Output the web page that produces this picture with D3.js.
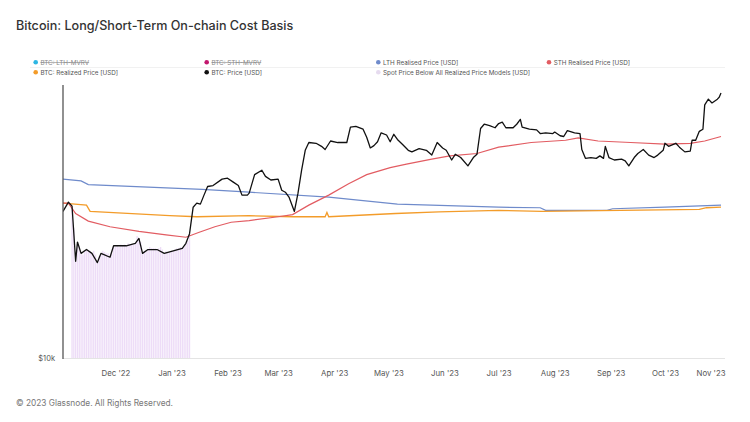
<!DOCTYPE html>
<html><head><meta charset="utf-8">
<script src="https://cdn.jsdelivr.net/npm/d3@7"></script>
<style>
html,body{margin:0;padding:0;background:#fff;overflow:hidden;}
svg{display:block;font-family:Inter,"Noto Sans",sans-serif;}
</style></head><body>
<script>
// ---------- DATA ----------
const priceDates = ["2022-11-02","2022-11-05","2022-11-07","2022-11-09","2022-11-10","2022-11-12","2022-11-15","2022-11-18","2022-11-21","2022-11-23","2022-11-28","2022-11-30","2022-12-07","2022-12-12","2022-12-14","2022-12-16","2022-12-19","2022-12-24","2022-12-28","2023-01-02","2023-01-07","2023-01-09","2023-01-11","2023-01-13","2023-01-15","2023-01-17","2023-01-19","2023-01-21","2023-01-24","2023-01-29","2023-02-01","2023-02-04","2023-02-07","2023-02-09","2023-02-12","2023-02-13","2023-02-16","2023-02-20","2023-02-22","2023-02-25","2023-03-01","2023-03-03","2023-03-05","2023-03-07","2023-03-10","2023-03-12","2023-03-14","2023-03-16","2023-03-18","2023-03-22","2023-03-25","2023-03-27","2023-03-30","2023-04-03","2023-04-08","2023-04-10","2023-04-13","2023-04-17","2023-04-19","2023-04-21","2023-04-23","2023-04-25","2023-04-27","2023-04-30","2023-05-02","2023-05-04","2023-05-06","2023-05-09","2023-05-12","2023-05-14","2023-05-18","2023-05-22","2023-05-25","2023-05-28","2023-05-31","2023-06-02","2023-06-05","2023-06-07","2023-06-10","2023-06-14","2023-06-17","2023-06-19","2023-06-21","2023-06-23","2023-06-26","2023-06-29","2023-07-01","2023-07-03","2023-07-05","2023-07-09","2023-07-11","2023-07-13","2023-07-14","2023-07-18","2023-07-22","2023-07-24","2023-07-27","2023-07-31","2023-08-01","2023-08-04","2023-08-06","2023-08-08","2023-08-12","2023-08-15","2023-08-16","2023-08-18","2023-08-21","2023-08-24","2023-08-26","2023-08-28","2023-08-29","2023-08-31","2023-09-03","2023-09-07","2023-09-09","2023-09-11","2023-09-14","2023-09-16","2023-09-19","2023-09-22","2023-09-25","2023-09-27","2023-09-30","2023-10-01","2023-10-03","2023-10-05","2023-10-07","2023-10-09","2023-10-12","2023-10-15","2023-10-16","2023-10-18","2023-10-20","2023-10-22","2023-10-23","2023-10-25","2023-10-27","2023-10-30","2023-10-31","2023-11-01"];
const priceValues = [20000,20900,20500,15800,17300,16400,16700,16400,15700,16400,16100,17000,17000,17200,17600,16400,16700,16700,16400,16600,16800,17200,18000,20400,20800,20700,21600,22500,22600,23300,23400,23000,22600,21600,21600,21800,23800,24300,23600,23200,23300,22100,21900,21400,20000,21800,24300,26700,27700,27600,27200,26800,27900,27700,27700,29800,29900,29500,28400,27000,27300,27800,29000,28700,27800,28800,28100,27400,26700,26500,26900,26700,26100,27700,27000,26700,25500,26200,25800,24800,25800,26200,29600,30200,30000,29700,30300,30500,29700,29700,30200,30900,29800,29500,29400,28900,29000,28900,29100,28600,28500,29300,29000,28900,26800,25700,25800,25700,26000,25700,27200,25800,25500,25600,25400,24800,25800,26300,26800,26100,25800,26100,26700,27600,27200,27400,27600,27100,26500,26600,28000,28000,29200,29500,33100,34000,33400,34000,34300,35000];

const lthDates = ["2022-11-02","2022-11-12","2022-11-16","2023-01-18","2023-02-13","2023-03-29","2023-05-06","2023-07-01","2023-07-24","2023-07-27","2023-08-30","2023-09-02","2023-10-01","2023-11-01"];
const lthValues = [23300,23100,22700,22200,21900,21400,20700,20400,20350,20100,20100,20250,20400,20600];

const sthDates = ["2022-11-02","2022-11-05","2022-11-09","2022-11-16","2022-11-28","2022-12-14","2022-12-29","2023-01-09","2023-01-16","2023-01-25","2023-02-03","2023-02-13","2023-03-01","2023-03-09","2023-03-18","2023-03-29","2023-04-09","2023-04-19","2023-05-02","2023-05-11","2023-05-25","2023-06-04","2023-06-19","2023-07-01","2023-07-19","2023-08-07","2023-08-14","2023-08-25","2023-09-12","2023-10-01","2023-10-15","2023-10-23","2023-11-01"];
const sthValues = [20800,20800,19800,19100,18600,18200,17900,17700,18100,18600,19000,19150,19500,19700,20600,21600,22800,23800,24600,25000,25600,26000,26300,27100,27700,28000,28300,27900,27700,27500,27600,27900,28500];

const realizedDates = ["2022-11-02","2022-11-15","2022-11-17","2022-12-31","2023-01-15","2023-02-13","2023-03-09","2023-03-27","2023-03-28","2023-03-29","2023-05-05","2023-05-29","2023-07-01","2023-07-25","2023-10-20","2023-10-24","2023-11-01"];
const realizedValues = [20800,20600,20000,19600,19500,19600,19500,19500,19900,19500,19800,19950,20100,20000,20200,20350,20400];

// Spot price below all realized price models (daily, from 2022-11-07)
const belowStart = "2022-11-07";
const belowValues = [20300,18500,15800,17300,17000,16400,16300,16600,16700,16600,16600,16400,16600,16300,15700,16200,16400,16600,16500,16400,16400,16100,16400,17000,
16900,17000,16900,17100,17000,17100,17000,17200,17100,17100,17100,17200,17800,17600,17300,16400,16600,16600,16700,16900,16800,16800,16800,16700,16800,16900,16700,16400,16600,16500,16500,
16600,16600,16700,16800,16800,16900,16900,16900,17200,17400,17900];

const xTickDates = ["2022-12-01","2023-01-01","2023-02-01","2023-03-01","2023-04-01","2023-05-01","2023-06-01","2023-07-01","2023-08-01","2023-09-01","2023-10-01","2023-11-01"];
const yTickValues = [10000];

const legendLabels = ["BTC: LTH-MVRV","BTC: STH-MVRV","LTH Realised Price [USD]","STH Realised Price [USD]","BTC: Realized Price [USD]","BTC: Price [USD]","Spot Price Below All Realized Price Models [USD]"];
const legendColors = ["#2db6e3","#c2186e","#6f8bcb","#e25c62","#f39c2a","#111111","#e6dbef"];
const legendHidden = [true,true,false,false,false,false,false];

// ---------- CHART ----------
(function () {
const W = 750, H = 422;
const parse = d3.utcParse("%Y-%m-%d");
const svg = d3.select("body").append("svg").attr("width", W).attr("height", H);

const pLeft = 63, pRight = 725, pBottom = 358, pTop = 85;
const x = d3.scaleUtc().domain([parse("2022-11-02"), parse("2023-11-01")]).range([63, 721]);
const y = d3.scaleLog().domain([10000, 100000]).range([358, -129]);

// title
svg.append("text").attr("x", 16).attr("y", 30).attr("font-size", 12.6).attr("font-weight", 500)
  .attr("fill", "#333").text("Bitcoin: Long/Short-Term On-chain Cost Basis");

// legend
svg.append("line").attr("x1", 30).attr("x2", pRight).attr("y1", 67.5).attr("y2", 67.5)
  .attr("stroke", "#f1f1f1").attr("stroke-width", 1);
const legPos = [[35.7,62.3],[206.7,62.3],[378.3,62.3],[549,62.3],[35.7,72.3],[206.7,72.3],[378.3,72.3]];
const lg = svg.append("g");
legendLabels.forEach((lab, i) => {
  const [lx, ly] = legPos[i];
  lg.append("circle").attr("cx", lx).attr("cy", ly).attr("r", 2.3).attr("fill", legendColors[i]);
  lg.append("text").attr("x", lx + 4.7).attr("y", ly + 2.3).attr("font-size", 6.3)
    .attr("fill", legendHidden[i] ? "#8a8a8a" : "#555")
    .attr("text-decoration", legendHidden[i] ? "line-through" : null)
    .text(lab);
});

// clip
svg.append("defs").append("clipPath").attr("id", "clip")
  .append("rect").attr("x", pLeft).attr("y", pTop - 10).attr("width", pRight - pLeft).attr("height", pBottom - pTop + 10);

const plot = svg.append("g").attr("clip-path", "url(#clip)");

// bars
const bs = parse(belowStart);
const barData = belowValues.map((v, i) => ({ d: d3.utcDay.offset(bs, i), v }));
const bw = (x(d3.utcDay.offset(bs, 1)) - x(bs)) * 0.72;
plot.selectAll("rect.bar").data(barData).enter().append("rect").attr("class", "bar")
  .attr("x", d => x(d.d) - bw / 2).attr("width", bw)
  .attr("y", d => y(d.v)).attr("height", d => y(10000) - y(d.v))
  .attr("fill", "#eddcf7");

// grid line bottom
svg.append("line").attr("x1", pLeft).attr("x2", pRight).attr("y1", pBottom + 0.5).attr("y2", pBottom + 0.5)
  .attr("stroke", "#e4e4e4");

function series(dates, vals) { return dates.map((d, i) => ({ d: parse(d), v: vals[i] })); }
const line = d3.line().x(d => x(d.d)).y(d => y(d.v)).curve(d3.curveLinear);

plot.append("path").datum(series(lthDates, lthValues)).attr("d", line)
  .attr("fill", "none").attr("stroke", legendColors[2]).attr("stroke-width", 1.2);
plot.append("path").datum(series(realizedDates, realizedValues)).attr("d", line)
  .attr("fill", "none").attr("stroke", legendColors[4]).attr("stroke-width", 1.3);
plot.append("path").datum(series(sthDates, sthValues)).attr("d", line)
  .attr("fill", "none").attr("stroke", legendColors[3]).attr("stroke-width", 1.2);
plot.append("path").datum(series(priceDates, priceValues)).attr("d", line)
  .attr("fill", "none").attr("stroke", "#111").attr("stroke-width", 1.3).attr("stroke-linejoin", "round");

// left axis line
svg.append("line").attr("x1", pLeft).attr("x2", pLeft).attr("y1", pTop).attr("y2", pBottom + 1)
  .attr("stroke", "#555").attr("stroke-width", 1.3);

// y axis
const yAxis = d3.axisLeft(y).tickValues(yTickValues).tickSize(0).tickPadding(8)
  .tickFormat(d => "$" + d3.format("~s")(d));
const yg = svg.append("g").attr("transform", `translate(${pLeft},0)`).call(yAxis);
yg.select(".domain").remove();
yg.selectAll("text").attr("font-size", 7.5).attr("fill", "#555").attr("font-family", "Inter,'Noto Sans',sans-serif");

// x axis
const fmt = d3.utcFormat("%b '%y");
const xAxis = d3.axisBottom(x).tickValues(xTickDates.map(parse)).tickSize(0).tickPadding(12).tickFormat(fmt);
const xg = svg.append("g").attr("transform", `translate(0,${pBottom})`).call(xAxis);
xg.select(".domain").remove();
xg.selectAll("text").attr("font-size", 7.8).attr("fill", "#555").attr("font-family", "Inter,'Noto Sans',sans-serif");
xg.selectAll(".tick").filter((d, i, n) => i === n.length - 1).select("text")
  .attr("text-anchor", "end").attr("dx", pRight - 721);

// footer
svg.append("text").attr("x", 16).attr("y", 406).attr("font-size", 8.3).attr("fill", "#777")
  .text("© 2023 Glassnode. All Rights Reserved.");
})();
</script>
</body></html>
